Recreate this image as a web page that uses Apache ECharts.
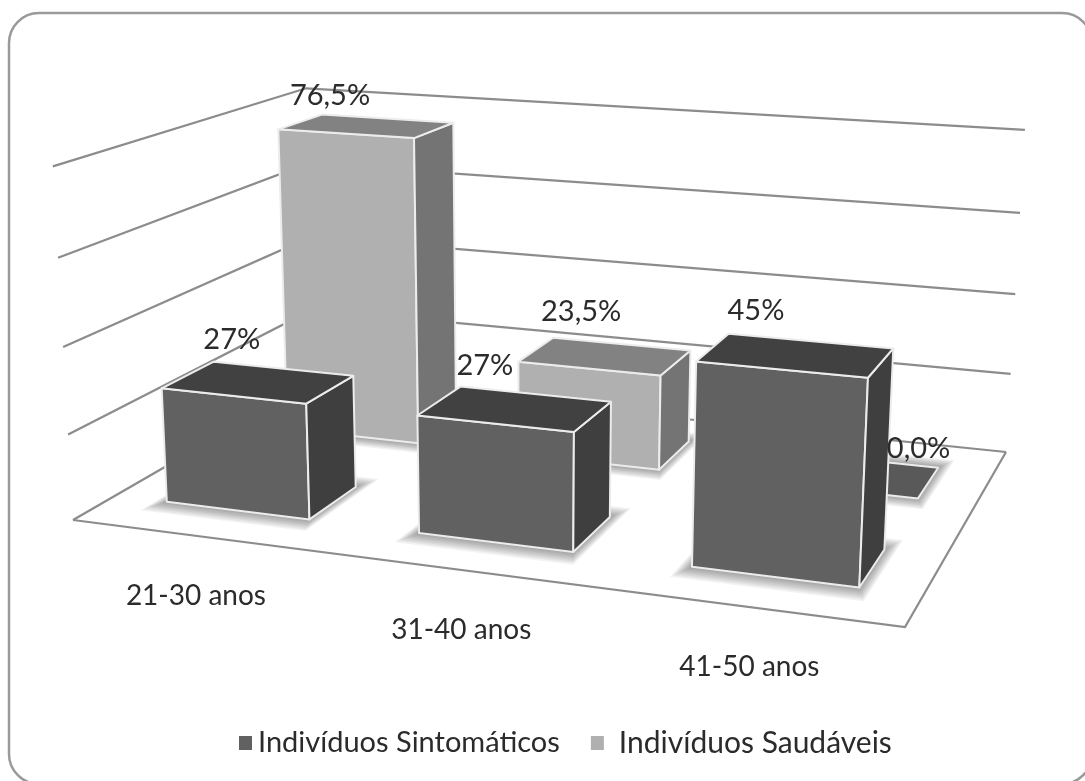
<!DOCTYPE html>
<html><head><meta charset="utf-8">
<style>html,body{margin:0;padding:0;background:#fff}#c{width:1085px;height:781px}</style>
<script src="https://cdn.jsdelivr.net/npm/echarts@6/dist/echarts.min.js"></script>
</head><body><div id="c"></div>
<script>
const categories = ['21-30 anos', '31-40 anos', '41-50 anos'];
const sintomaticos = [27, 27, 45];
const saudaveis = [76.5, 23.5, 0];
const sintomaticosLabels = ['27%', '27%', '45%'];
const saudaveisLabels = ['76,5%', '23,5%', '0,0%'];
const gridValues = [0, 20, 40, 60, 80];

// Scene: the picture of the chart's floor box (perspective frame)
const FLOOR = [[73,520],[905,627],[1006,452],[314,381]];
const TOP_REFS = [[0,[53,170]],[2,[1025,128]],[3,[306,87]]];
const VP = [531, 8550];
const BAR_WIDTH = 0.575;
const DEPTHS = { sint: [0.15, 0.35], saud: [0.65, 0.85] };
const FONT = 'Lato, "Open Sans", sans-serif';
const TEXT = '#2b2b2b';

const H = (function () {
  const [p0,p1,p2,p3] = FLOOR;
  const dx1=p1[0]-p2[0], dx2=p3[0]-p2[0], sx=p0[0]-p1[0]+p2[0]-p3[0];
  const dy1=p1[1]-p2[1], dy2=p3[1]-p2[1], sy=p0[1]-p1[1]+p2[1]-p3[1];
  const den=dx1*dy2-dx2*dy1;
  const g=(sx*dy2-dx2*sy)/den, h=(dx1*sy-sx*dy1)/den;
  return {a:p1[0]-p0[0]+g*p1[0], b:p3[0]-p0[0]+h*p3[0], c:p0[0],
          d:p1[1]-p0[1]+g*p1[1], e:p3[1]-p0[1]+h*p3[1], f:p0[1], g, h};
})();
const floorW = (u,v) => H.g*u + H.h*v + 1;
const UV = [[0,0],[1,0],[1,1],[0,1]];
const K = TOP_REFS.reduce((s,[i,t]) => {
  const w = floorW(UV[i][0],UV[i][1]);
  return s + (t[1]-FLOOR[i][1])*w/(VP[1]-t[1]);
}, 0) / TOP_REFS.length;

function project(u,v,h){
  const X=H.a*u+H.b*v+H.c, Y=H.d*u+H.e*v+H.f, W=floorW(u,v), q=h*K;
  return [(X+q*VP[0])/(W+q), (Y+q*VP[1])/(W+q)];
}
function heightOf(api, params, value){
  const cs=params.coordSys;
  return (cs.y+cs.height-api.coord([0,value])[1])/cs.height;
}
function bandOf(api, params, idx){
  const cs=params.coordSys;
  const cx=api.coord([idx,0])[0], w=api.size([1,0])[0]*BAR_WIDTH;
  return [(cx-w/2-cs.x)/cs.width, (cx+w/2-cs.x)/cs.width, (cx-cs.x)/cs.width];
}
const poly=(pts,fill,stroke)=>({type:'polygon',silent:true,shape:{points:pts},
  style:{fill,stroke:stroke||'#ececec',lineWidth:2,lineJoin:'round'}});

function barRenderer(depth, colors, labels, nudge){
  return function(params, api){
    const i=api.value(0), val=api.value(1);
    const [u1,u2,uc]=bandOf(api,params,i);
    const [v1,v2]=depth, h=heightOf(api,params,val);
    const P=project;
    const kids=[];
    // soft floor shadow: stacked translucent footprints
    for(let k=8;k>=1;k--){
      const du=k*0.0017, dv=k*0.0075;
      kids.push({type:'polygon',silent:true,
        shape:{points:[P(u1-du,v1-dv,0),P(u2+du,v1-dv,0),P(u2+du,v2+dv,0),P(u1-du,v2+dv,0)]},
        style:{fill:'rgba(0,0,0,0.05)'}});
    }
    if(h>0){
      kids.push(poly([P(u1,v1,0),P(u2,v1,0),P(u2,v1,h),P(u1,v1,h)],colors.front));
      kids.push(poly([P(u2,v1,0),P(u2,v2,0),P(u2,v2,h),P(u2,v1,h)],colors.side));
      kids.push(poly([P(u1,v1,h),P(u2,v1,h),P(u2,v2,h),P(u1,v2,h)],colors.top));
    } else {
      kids.push(poly([P(u1,v1,0),P(u2,v1,0),P(u2,v2,0),P(u1,v2,0)],colors.flat));
    }
    const a=P(uc,v2,h), n=nudge[i];
    kids.push({type:'text',silent:true,z2:50,style:{text:labels[i],x:a[0]+n[0],y:a[1]+n[1],
      fill:TEXT,fontSize:29,fontFamily:FONT,align:'center',verticalAlign:'middle'}});
    return {type:'group',children:kids};
  };
}
function gridRenderer(params, api){
  const h=heightOf(api,params,api.value(0));
  const line={stroke:'#8c8c8c',lineWidth:2.2,fill:null};
  const kids=[{type:'polyline',silent:true,shape:{points:[project(0,0,h),project(0,1,h),project(1,1,h)]},style:line}];
  if(api.value(0)===0) kids.push({type:'polyline',silent:true,shape:{points:[project(0,0,0),project(1,0,0),project(1,1,0)]},style:line});
  return {type:'group',children:kids};
}
function axisLabelRenderer(params, api){
  const i=api.value(0);
  const p=project(bandOf(api,params,i)[2],0,0);
  return {type:'text',silent:true,style:{text:categories[i],x:p[0]-2,y:p[1]+60,fill:TEXT,fontSize:28,fontFamily:FONT,
    align:'center',verticalAlign:'middle'}};
}
const sintColors={front:'#616161',side:'#3f3f3f',top:'#414141',flat:'#595959'};
const saudColors={front:'#b0b0b0',side:'#747474',top:'#828282',flat:'#595959'};

const chart=echarts.init(document.getElementById('c'),null,{renderer:'canvas'});
chart.setOption({
  animation:false,
  backgroundColor:'#ffffff',
  graphic:[{type:'rect',z:-10,silent:true,shape:{x:9,y:13,width:1083,height:771,r:30},
    style:{fill:'#fff',stroke:'#9a9a9a',lineWidth:2.5}}],
  grid:{left:0,right:0,top:0,bottom:0,show:false},
  xAxis:{type:'category',data:categories,show:false},
  yAxis:{type:'value',min:0,max:80,interval:20,show:false},
  legend:{left:234,top:723,selectedMode:false,itemWidth:13,itemHeight:14,itemGap:31,icon:'rect',
    data:[{name:'Indivíduos Sintomáticos'},
          {name:'Indivíduos Saudáveis',textStyle:{fontSize:30,color:TEXT,fontFamily:FONT,padding:[0,0,0,10]}}],
    textStyle:{fontSize:29,color:TEXT,fontFamily:FONT,padding:[0,0,0,1]}},
  tooltip:{show:false},
  series:[
    {type:'custom',name:'grade',silent:true,renderItem:gridRenderer,encode:{y:0},coordinateSystem:'cartesian2d',
      data:gridValues.map(v=>[v]),z:1},
    {type:'custom',name:'Indivíduos Saudáveis',itemStyle:{color:'#b0b0b0'},z:2,
      renderItem:barRenderer(DEPTHS.saud,saudColors,saudaveisLabels,[[-57,-23],[-40,-32],[54,-11]]),
      encode:{x:0,y:1},data:saudaveis.map((v,i)=>[i,v])},
    {type:'custom',name:'Indivíduos Sintomáticos',itemStyle:{color:'#616161'},z:2,
      renderItem:barRenderer(DEPTHS.sint,sintColors,sintomaticosLabels,[[-51,-29],[-50,-29],[-54,-30]]),
      encode:{x:0,y:1},data:sintomaticos.map((v,i)=>[i,v])},
    {type:'custom',name:'rotulos',silent:true,z:4,renderItem:axisLabelRenderer,encode:{x:0},
      data:categories.map((c,i)=>[i])}
  ]
});
</script></body></html>
